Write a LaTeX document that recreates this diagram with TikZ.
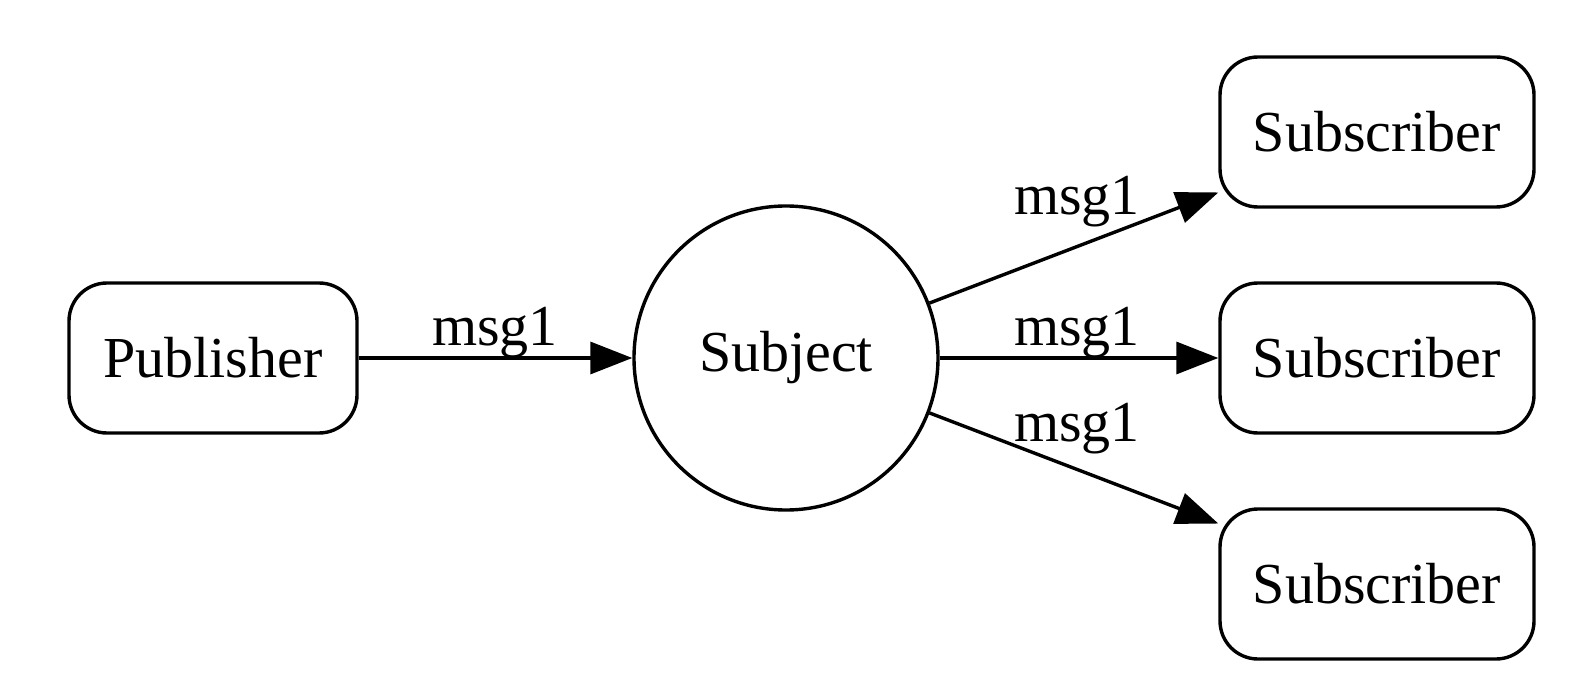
\documentclass[tikz,border=0pt]{standalone}
\usepackage{fontspec}
\setmainfont{Liberation Serif}
\usetikzlibrary{arrows.meta}
\begin{document}
\begin{tikzpicture}[x=0.5pt,y=-0.5pt,
    font=\fontsize{29}{35}\selectfont,
    box/.style={draw, line width=1.7pt, rounded corners=19pt, minimum height=75pt, inner sep=0pt},
    hub/.style={draw, line width=1.7pt, circle, minimum size=152pt, inner sep=0pt},
    msg/.style={-{Triangle[length=21pt,width=16pt]}, line width=1.7pt},
    lbl/.style={anchor=base, inner sep=0pt}]
    \useasboundingbox (0,0) rectangle (1590,700);
    \node[box, minimum width=144pt] (pub) at (213,358) {Publisher};
    \node[hub] (subj) at (786,358) {Subject};
    \foreach \i/\y in {1/132,2/358,3/584}
    {
        \node[box, minimum width=157pt] (sub\i) at (1377,\y) {Subscriber};
    }
    \draw[msg] (pub) -- (subj);
    \foreach \i in {1,2,3}
    {
        \draw[msg] (subj) -- (sub\i);
    }
    \node[lbl] (lab0) at (495,345) {msg1};
    \node[lbl] (lab1) at (1077,215) {msg1};
    \node[lbl] (lab2) at (1077,345) {msg1};
    \node[lbl] (lab3) at (1077,441) {msg1};
\end{tikzpicture}
\end{document}
